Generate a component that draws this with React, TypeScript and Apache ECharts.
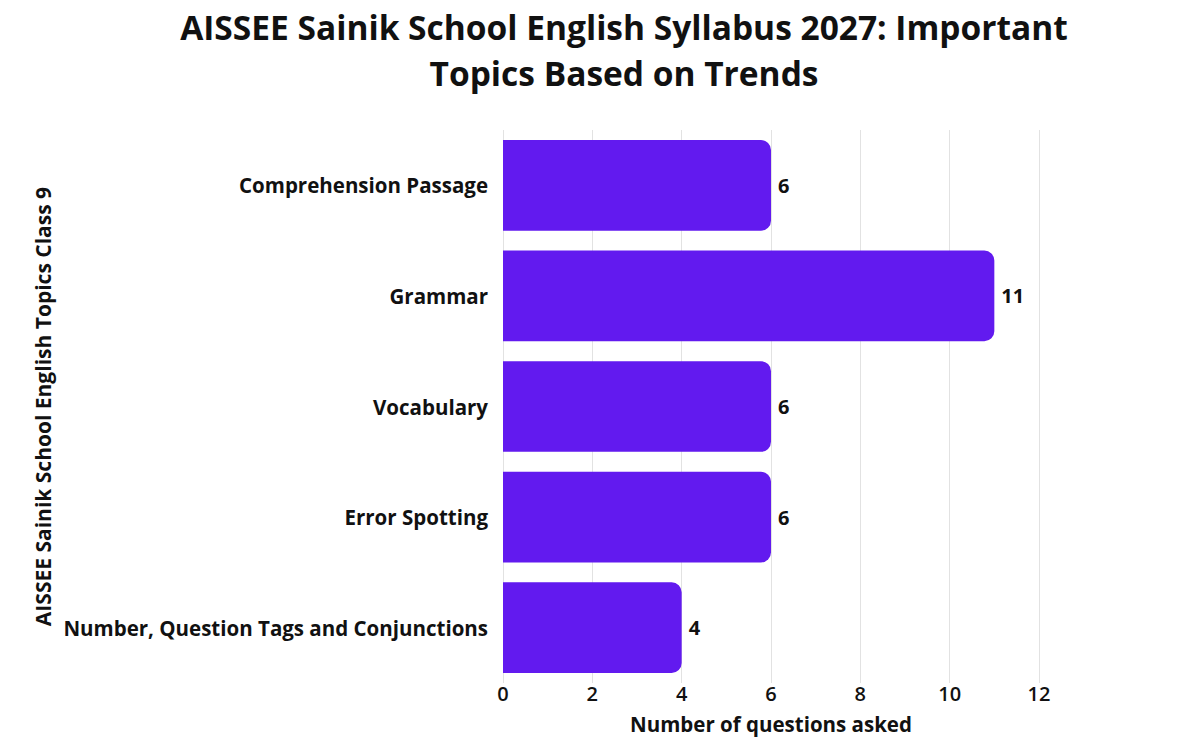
import { useEffect, useRef } from "react";
import * as echarts from "echarts";

const topics = [
  "Comprehension Passage",
  "Grammar",
  "Vocabulary",
  "Error Spotting",
  "Number, Question Tags and Conjunctions",
];
const questionCounts = [6, 11, 6, 6, 4];
const xTicks = [0, 2, 4, 6, 8, 10, 12];

const FONT = "'Open Sans', 'Noto Sans', sans-serif";

export default function App() {
  const chartRef = useRef<HTMLDivElement>(null);

  useEffect(() => {
    if (!chartRef.current) return;
    document.body.style.margin = "0";
    const chart = echarts.init(chartRef.current, null, { renderer: "svg" });

    chart.setOption({
      animation: false,
      backgroundColor: "#ffffff",
      title: {
        text: "AISSEE Sainik School English Syllabus 2027: Important\nTopics Based on Trends",
        left: 624,
        textAlign: "center",
        top: 4,
        padding: 0,
        textStyle: {
          fontFamily: FONT,
          fontSize: 33.5,
          fontWeight: "bold",
          color: "#111111",
          lineHeight: 46,
        },
      },
      grid: { left: 503, width: 536, top: 130, height: 553 },
      xAxis: {
        type: "value",
        min: xTicks[0],
        max: xTicks[xTicks.length - 1],
        interval: 2,
        name: "Number of questions asked",
        nameLocation: "middle",
        nameGap: 30,
        nameTextStyle: {
          fontFamily: FONT,
          fontSize: 20.5,
          fontWeight: "bold",
          color: "#111111",
        },
        axisLine: { show: false },
        axisTick: { show: false },
        axisLabel: {
          fontFamily: FONT,
          fontSize: 20,
          fontWeight: 600,
          color: "#111111",
          margin: 0,
        },
        splitLine: { show: true, lineStyle: { color: "#e2e2e2", width: 1 } },
      },
      yAxis: {
        type: "category",
        data: topics,
        inverse: true,
        name: "AISSEE Sainik School English Topics Class 9",
        nameLocation: "middle",
        nameGap: 450,
        nameTextStyle: {
          fontFamily: FONT,
          fontSize: 21,
          fontWeight: "bold",
          color: "#111111",
        },
        axisLine: { show: false },
        axisTick: { show: false },
        axisLabel: {
          fontFamily: FONT,
          fontSize: 20.5,
          fontWeight: "bold",
          color: "#111111",
          margin: 15,
        },
      },
      series: [
        {
          type: "bar",
          data: questionCounts,
          barCategoryGap: "18%",
          itemStyle: { color: "#621aef", borderRadius: [0, 10, 10, 0] },
          label: {
            show: true,
            position: "right",
            distance: 7,
            fontFamily: FONT,
            fontSize: 20,
            fontWeight: "bold",
            color: "#111111",
          },
        },
      ],
    });

    return () => {
      chart.dispose();
    };
  }, []);

  return <div ref={chartRef} style={{ width: 1200, height: 756 }} />;
}
